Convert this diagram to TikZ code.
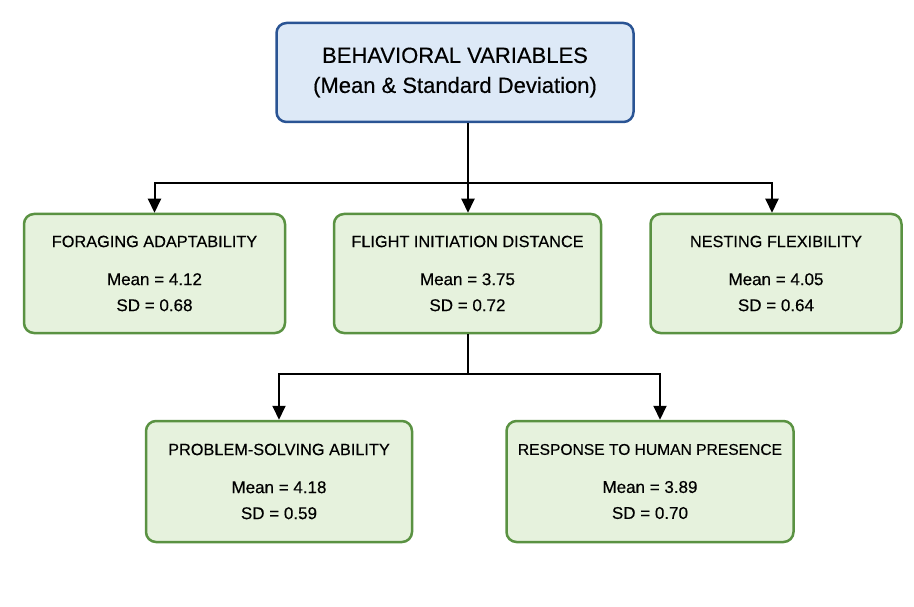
\documentclass[tikz,border=0pt]{standalone}
\usepackage{fontspec}
\setmainfont{Liberation Sans}[FakeBold=0.35]
\usetikzlibrary{arrows.meta,positioning,calc}
\definecolor{titlefill}{HTML}{DDE9F7}
\definecolor{titleline}{HTML}{2A5494}
\definecolor{varfill}{HTML}{E6F2DD}
\definecolor{varline}{HTML}{5A9242}
\tikzset{
  >={Triangle[length=14pt,width=13pt]},
  head/.style   ={draw=titleline, line width=2.5pt, rounded corners=10pt, fill=titlefill,
                  minimum width=357pt, minimum height=99pt, align=center,
                  font=\fontsize{22}{33}\selectfont},
  var/.style    ={draw=varline, line width=2.5pt, rounded corners=10pt, fill=varfill,
                  minimum height=119pt, align=center, inner sep=0pt,
                  font=\fontsize{17}{26}\selectfont},
  link/.style   ={line width=2pt, black},
  arr/.style    ={->, line width=2pt, black},
}
\newcommand{\vhd}[1]{{\fontsize{16.3}{20}\selectfont #1}}

\begin{document}
\begin{tikzpicture}[x=1pt, y=-1pt]
  \fill[white] (0,0) rectangle (914,607);
  \useasboundingbox (0,0) rectangle (914,607);

  % title
  \node[head] (beh) at (455,72.5) {\raisebox{-3pt}{BEHAVIORAL VARIABLES}\\(Mean \& Standard Deviation)};

  % first level
  \node[var, minimum width=261pt] (fad) at (154.5,273.5) {\vhd{FORAGING ADAPTABILITY}\\[12pt]Mean = 4.12\\SD = 0.68};
  \node[var, minimum width=267pt] (fid) at (467.5,273.5) {\vhd{FLIGHT INITIATION DISTANCE}\\[12pt]Mean = 3.75\\SD = 0.72};
  \node[var, minimum width=251pt] (nfx) at (776,273.5) {\vhd{NESTING FLEXIBILITY}\\[12pt]Mean = 4.05\\SD = 0.64};

  % second level
  \node[var, minimum width=266pt, minimum height=121pt] (psa) at (279,481.5) {\vhd{PROBLEM-SOLVING ABILITY}\\[12pt]Mean = 4.18\\SD = 0.59};
  \node[var, minimum width=287pt, minimum height=121pt] (rhp) at (650,481.5) {{\fontsize{15.6}{20}\selectfont RESPONSE TO HUMAN PRESENCE}\\[12pt]Mean = 3.89\\SD = 0.70};

  % connectors
  \coordinate (split1) at (468,183);
  \coordinate (split2) at (468,374);
  \draw[link] (beh.south -| split1) -- (split1);
  \draw[arr] (split1) -| (fad.north);
  \draw[arr] (split1) -- (fid.north -| split1);
  \draw[arr] (split1) -| ([xshift=-4pt]nfx.north);
  \draw[link] (fid.south -| split2) -- (split2);
  \draw[arr] (split2) -| (psa.north);
  \draw[arr] (split2) -| ([xshift=10pt]rhp.north);
\end{tikzpicture}
\end{document}
